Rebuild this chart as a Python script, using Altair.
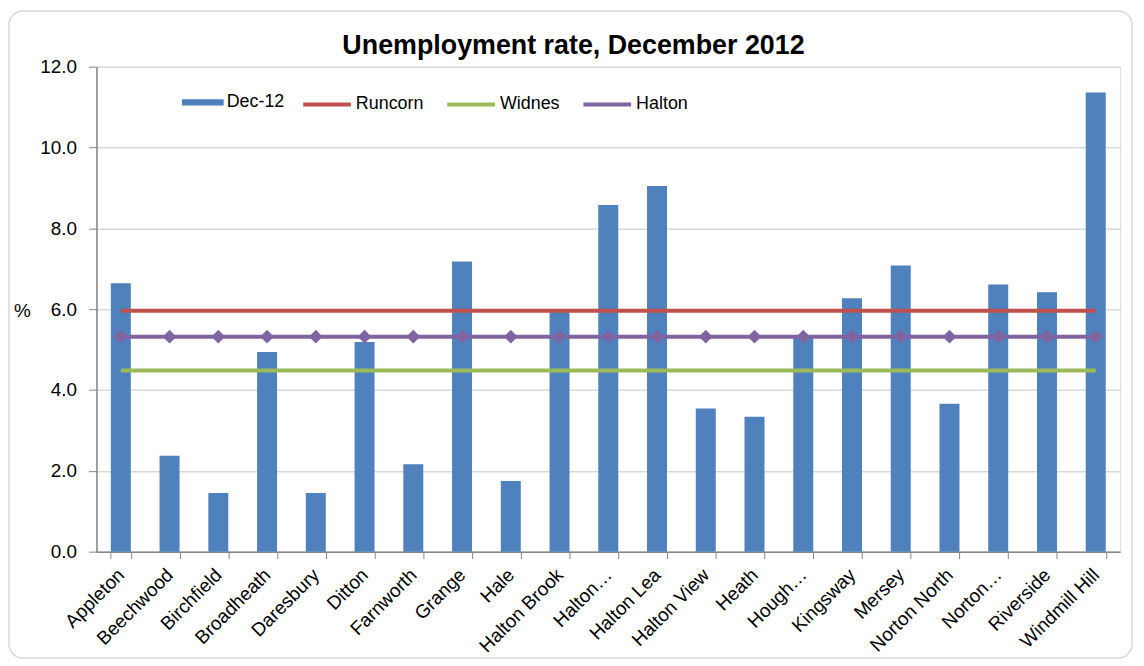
import altair as alt
import pandas as pd

areas = ["Appleton", "Beechwood", "Birchfield", "Broadheath", "Daresbury", "Ditton",
         "Farnworth", "Grange", "Hale", "Halton Brook", "Halton…", "Halton Lea",
         "Halton View", "Heath", "Hough…", "Kingsway", "Mersey", "Norton North",
         "Norton…", "Riverside", "Windmill Hill"]
dec12 = [6.64, 2.37, 1.45, 4.94, 1.45, 5.19, 2.16, 7.18, 1.75, 5.93, 8.58, 9.05,
         3.54, 3.34, 5.33, 6.27, 7.08, 3.66, 6.61, 6.42, 11.36]
line_names = ["Runcorn", "Widnes", "Halton"]
line_values = [5.96, 4.48, 5.32]
line_colors = ["#c0504d", "#9bbb59", "#8064a2"]
bar_color = "#4f81bd"
y_ticks = [0, 2, 4, 6, 8, 10, 12]
title_text = "Unemployment rate, December 2012"

bars_df = pd.DataFrame({"area": areas, "rate": dec12, "series": ["Dec-12"] * len(areas)})
lines_df = pd.DataFrame([
    {"area": a, "rate": v, "series": n}
    for n, v in zip(line_names, line_values) for a in areas
])
halton_df = lines_df[lines_df["series"] == "Halton"]

FONT = "Liberation Sans"

x_enc = alt.X(
    "area:N",
    sort=areas,
    scale=alt.Scale(domain=areas, paddingInner=0.59, paddingOuter=0.295),
    axis=alt.Axis(
        title=None, labelAngle=-45, labelFontSize=19, labelColor="#000000",
        labelPadding=13, tickBand="extent", tickSize=7, tickColor="#868686",
        domainColor="#868686", domainWidth=1.5, grid=False, labelFont=FONT,
        labelAlign="right", labelBaseline="middle",
    ),
)
y_enc = alt.Y(
    "rate:Q",
    scale=alt.Scale(domain=[0, 12], nice=False),
    axis=alt.Axis(
        title="%", titleAngle=0, titleFontSize=19, titleFontWeight="normal",
        titleColor="#000000", titleX=-75, titleY=255, titleAlign="center",
        titleFont=FONT, values=y_ticks, format=".1f", labelFontSize=19,
        labelColor="#000000", labelPadding=12, tickSize=8, tickColor="#868686",
        domainColor="#868686", domainWidth=1.5, gridColor="#d9d9d9",
        gridWidth=1.5, labelFont=FONT,
    ),
)

border = alt.Chart(pd.DataFrame({"a": [0]})).mark_rect(
    fill="transparent", stroke="#d9d9d9", strokeWidth=1.5, cornerRadius=14
).encode(x=alt.value(-88), x2=alt.value(1042), y=alt.value(-56), y2=alt.value(595))

title = alt.Chart(pd.DataFrame({"t": [title_text]})).mark_text(
    font=FONT, fontSize=27, fontWeight="bold", color="#000000",
    align="center", baseline="alphabetic",
).encode(x=alt.value(480), y=alt.value(-13), text="t:N")

bars = alt.Chart(bars_df).mark_bar().encode(
    x=x_enc,
    y=y_enc,
    fill=alt.Fill(
        "series:N",
        scale=alt.Scale(domain=["Dec-12"], range=[bar_color]),
        legend=alt.Legend(
            title=None, orient="none", legendX=86, legendY=15, direction="horizontal",
            symbolType="M-1,-0.15L1,-0.15L1,0.15L-1,0.15Z", symbolSize=1764,
            symbolStrokeWidth=0, labelFontSize=18, labelColor="#000000",
            labelOffset=3, labelFont=FONT,
        ),
    ),
)

lines = alt.Chart(lines_df).mark_line(strokeWidth=4).encode(
    x=alt.X("area:N", sort=areas),
    y=alt.Y("rate:Q"),
    stroke=alt.Stroke(
        "series:N",
        scale=alt.Scale(domain=line_names, range=line_colors),
        legend=alt.Legend(
            title=None, orient="none", legendX=206, legendY=12, direction="horizontal",
            symbolType="stroke", symbolSize=2304, symbolStrokeWidth=4,
            labelFontSize=18, labelColor="#000000", labelOffset=3,
            columnPadding=15, gridAlign="each", labelFont=FONT,
        ),
    ),
    detail="series:N",
)

points = alt.Chart(halton_df).mark_point(
    shape="diamond", filled=True, size=190, color="#8064a2", opacity=1
).encode(x=alt.X("area:N", sort=areas), y=alt.Y("rate:Q"))

chart = alt.layer(border, title, bars, lines, points).properties(
    width=1030,
    height=488,
    autosize=alt.AutoSizeParams(type="none"),
    padding={"left": 89, "top": 57, "right": 16, "bottom": 110},
).configure_view(stroke=None).configure(background="white")

chart.save("out.html", embed_options={"renderer": "svg", "actions": False})
